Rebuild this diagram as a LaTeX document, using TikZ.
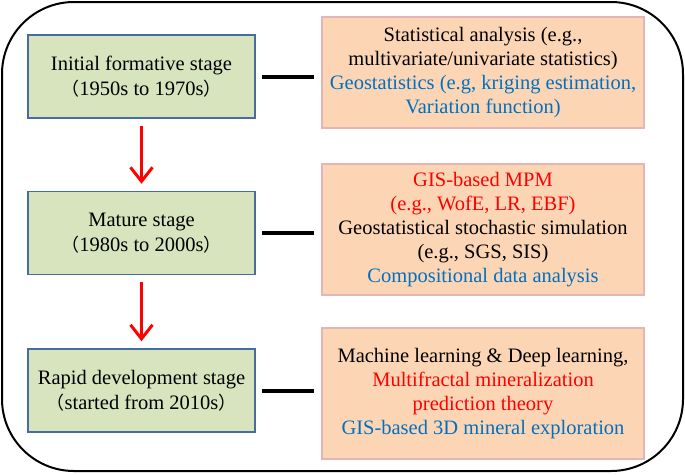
\documentclass[tikz,border=0pt]{standalone}
\usepackage{fontspec}
\setmainfont{Liberation Serif}
\newfontfamily\cjk{Noto Sans CJK SC}
\usetikzlibrary{arrows.meta}
\definecolor{stagefill}{RGB}{215,228,189}
\definecolor{stageline}{RGB}{72,108,160}
\definecolor{methfill}{RGB}{252,213,181}
\definecolor{methline}{RGB}{228,180,182}
\definecolor{txtblue}{RGB}{0,112,192}
\definecolor{txtred}{RGB}{255,0,0}
\newcommand{\lp}{{\cjk\fontsize{18}{24}\selectfont （}}
\newcommand{\rp}{{\cjk\fontsize{18}{24}\selectfont ）}}
\begin{document}
\begin{tikzpicture}[x=1pt,y=-1pt,
  stagebox/.style={draw=stageline,fill=stagefill,line width=1.5pt,minimum width=227pt,minimum height=83pt,inner sep=0pt,align=center,font=\fontsize{20.5}{25}\selectfont},
  methbox/.style={draw=methline,fill=methfill,line width=1.5pt,minimum width=322pt,inner sep=0pt,align=center,font=\fontsize{20.5}{24}\selectfont},
  link/.style={line width=4pt,black,shorten <=6pt,shorten >=7pt},
  flow/.style={draw=red,line width=3pt,-{Straight Barb[length=14pt,width=22pt,line width=3pt]},shorten <=7pt,shorten >=7pt}]
\useasboundingbox (0,0) rectangle (685,474);
\draw[line width=2pt,rounded corners=72pt] (2,2) rectangle (683,471);
\node[stagebox] (s1) at (141.5,76.5) {Initial formative stage\\\lp1950s to 1970s\rp};
\node[stagebox] (s2) at (141.5,233) {Mature stage\\\lp1980s to 2000s\rp};
\node[stagebox] (s3) at (141.5,390.5) {Rapid development stage\\\lp started from 2010s\rp};
\node[methbox,minimum height=111pt] (m1) at (483,72.5) {Statistical analysis (e.g.,\\multivariate/univariate statistics)\\\textcolor{txtblue}{Geostatistics (e.g, kriging estimation,}\\\textcolor{txtblue}{Variation function)}};
\node[methbox,minimum height=131pt] (m2) at (483,229.5) {\textcolor{txtred}{GIS-based MPM}\\\textcolor{txtred}{(e.g., WofE, LR, EBF)}\\Geostatistical stochastic simulation\\(e.g., SGS, SIS)\\\textcolor{txtblue}{Compositional data analysis}};
\node[methbox,minimum height=131pt] (m3) at (483,393.5) {Machine learning \& Deep learning,\\\textcolor{txtred}{Multifractal mineralization}\\\textcolor{txtred}{prediction theory}\\\textcolor{txtblue}{GIS-based 3D mineral exploration}};
\draw[link] (s1.east) -- (s1.east -| m1.west);
\draw[link] (s2.east) -- (s2.east -| m2.west);
\draw[link] (s3.east) -- (s3.east -| m3.west);
\draw[flow] (s1.south) -- (s2.north);
\draw[flow] (s2.south) -- (s3.north);
\end{tikzpicture}
\end{document}
